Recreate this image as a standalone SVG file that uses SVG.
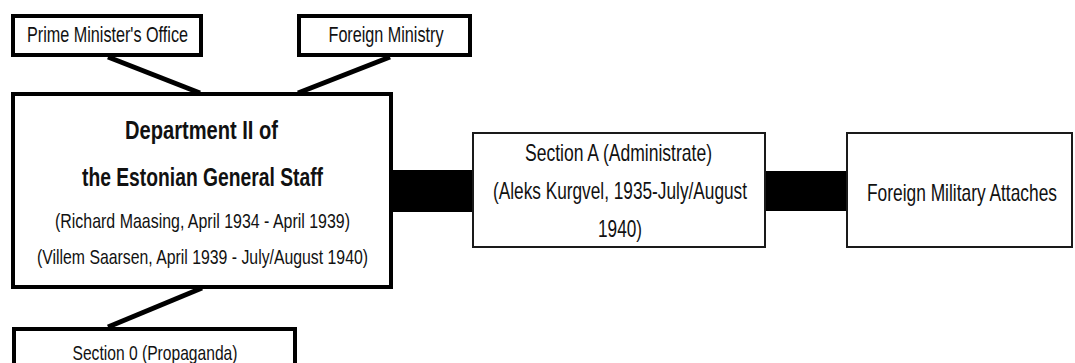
<svg xmlns="http://www.w3.org/2000/svg" width="1075" height="363" viewBox="0 0 1075 363">
<style>
.thick{fill:#fff;stroke:#000;stroke-width:4}
.thin{fill:#fff;stroke:#1a1a1a;stroke-width:2}
.conn{stroke:#000;stroke-width:5;fill:none}
.bar{fill:#000}
text{font-family:"Liberation Sans",Arial,sans-serif;fill:#111;text-anchor:middle}
.b{font-weight:bold}
</style>
<rect width="1075" height="363" fill="#fff"/>
<g id="connectors">
<line class="conn" x1="108" y1="57" x2="200" y2="93"/>
<line class="conn" x1="390" y1="57" x2="298" y2="93"/>
<line class="conn" x1="202" y1="288" x2="108" y2="327"/>
<rect class="bar" x="391" y="170" width="83" height="42"/>
<rect class="bar" x="764" y="171" width="84" height="40"/>
</g>
<g id="pm">
<rect class="thick" x="13" y="16" width="188" height="39"/>
<text x="107.5" y="42" font-size="22" textLength="161" lengthAdjust="spacingAndGlyphs">Prime Minister's Office</text>
</g>
<g id="fm">
<rect class="thick" x="299" y="16" width="171" height="39"/>
<text x="386" y="42" font-size="22" textLength="115" lengthAdjust="spacingAndGlyphs">Foreign Ministry</text>
</g>
<g id="dept">
<rect class="thick" x="13" y="94" width="378" height="193"/>
<text class="b" x="201.5" y="139" font-size="26" textLength="153" lengthAdjust="spacingAndGlyphs">Department II of</text>
<text class="b" x="202.5" y="186" font-size="26" textLength="241" lengthAdjust="spacingAndGlyphs">the Estonian General Staff</text>
<text x="202.5" y="228" font-size="21" textLength="295" lengthAdjust="spacingAndGlyphs">(Richard Maasing, April 1934 - April 1939)</text>
<text x="202.5" y="264" font-size="21" textLength="331" lengthAdjust="spacingAndGlyphs">(Villem Saarsen, April 1939 - July/August 1940)</text>
</g>
<g id="sectionA">
<rect class="thin" x="473" y="133" width="292" height="114"/>
<text x="618.5" y="161" font-size="24" textLength="187" lengthAdjust="spacingAndGlyphs">Section A (Administrate)</text>
<text x="620" y="199" font-size="24" textLength="254" lengthAdjust="spacingAndGlyphs">(Aleks Kurgvel, 1935-July/August</text>
<text x="620" y="237" font-size="24" textLength="44" lengthAdjust="spacingAndGlyphs">1940)</text>
</g>
<g id="attaches">
<rect class="thin" x="847" y="133" width="225" height="114"/>
<text x="962" y="201" font-size="24" textLength="190" lengthAdjust="spacingAndGlyphs">Foreign Military Attaches</text>
</g>
<g id="section0">
<rect class="thick" x="14" y="329" width="281" height="50"/>
<text x="155" y="360" font-size="21" textLength="165" lengthAdjust="spacingAndGlyphs">Section 0 (Propaganda)</text>
</g>
</svg>
